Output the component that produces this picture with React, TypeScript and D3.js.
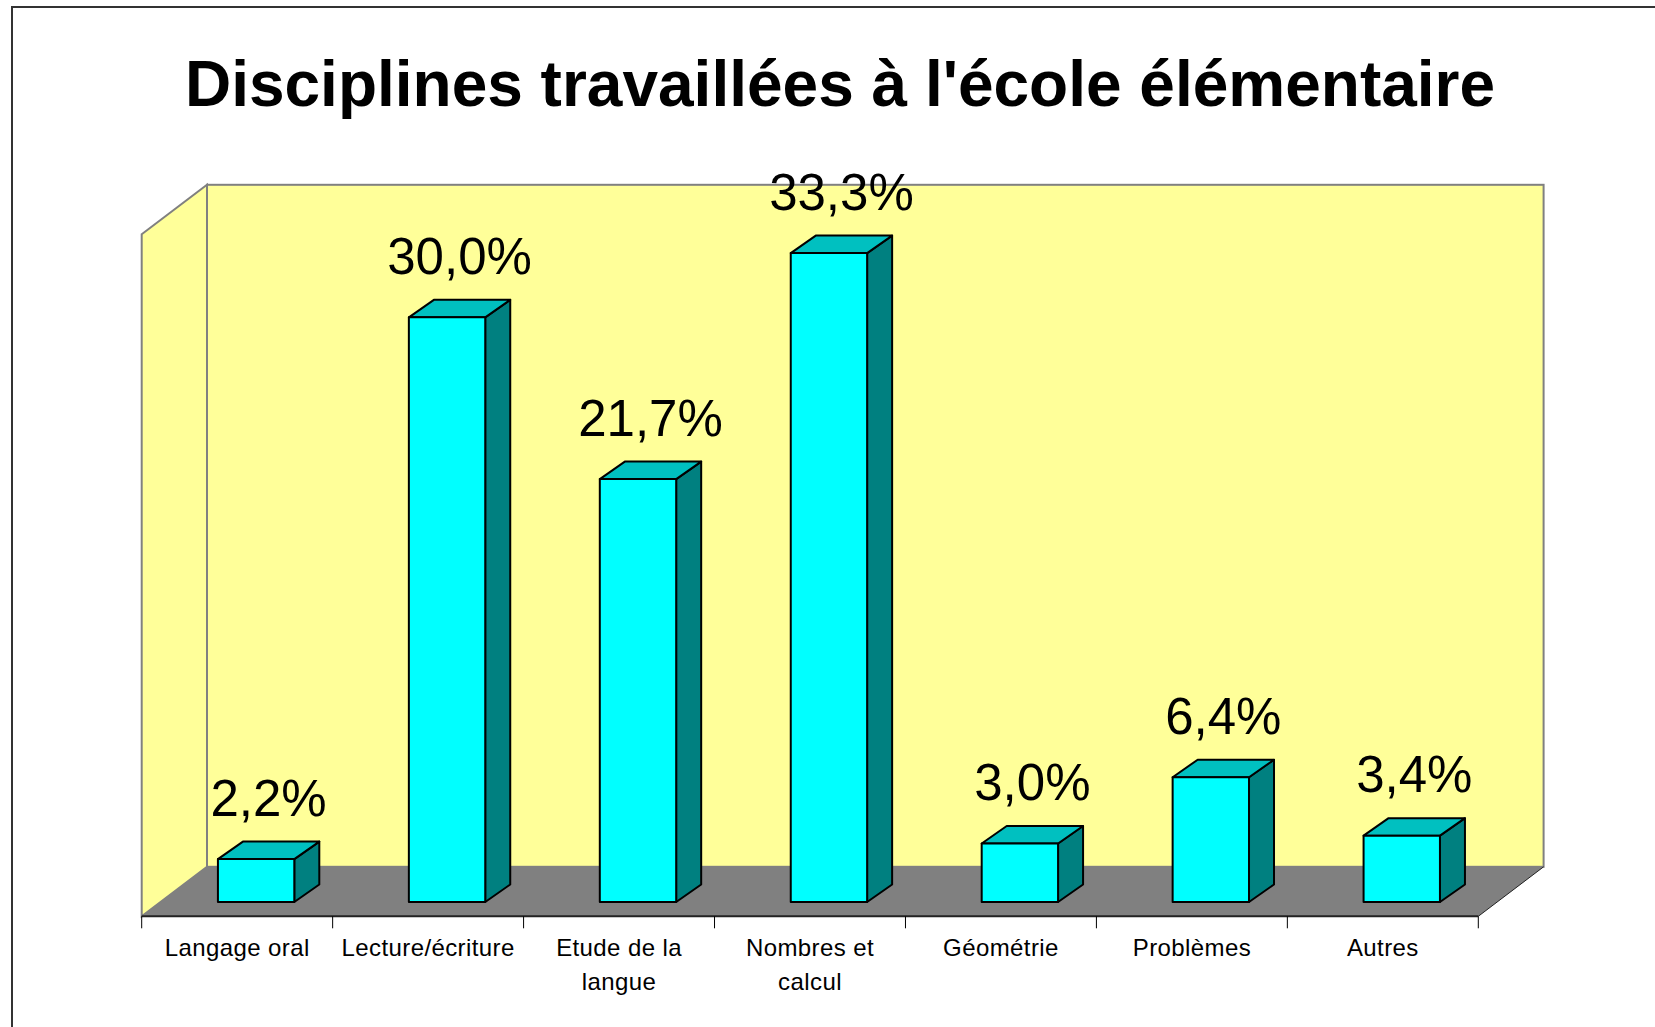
import React from "react";
import * as d3 from "d3";

const categories = [
  "Langage oral",
  "Lecture/écriture",
  "Etude de la langue",
  "Nombres et calcul",
  "Géométrie",
  "Problèmes",
  "Autres",
];
const categoryLines = [
  ["Langage oral"],
  ["Lecture/écriture"],
  ["Etude de la", "langue"],
  ["Nombres et", "calcul"],
  ["Géométrie"],
  ["Problèmes"],
  ["Autres"],
];
const values = [2.2, 30.0, 21.7, 33.3, 3.0, 6.4, 3.4];
const valueLabels = ["2,2%", "30,0%", "21,7%", "33,3%", "3,0%", "6,4%", "3,4%"];
const yMax = 35;

const W = 1655;
const H = 1027;
const font = "'Liberation Sans', Arial, sans-serif";

export default function App() {
  // front edge of the floor and the 3D depth offset
  const x0 = 141.7;
  const x1 = 1478.3;
  const floorY = 916.3;
  const dX = 65.3;
  const dY = -49.5;
  const wallH = 682;

  const x = d3.scaleBand().domain(categories).range([x0, x1]).padding(0);
  const h = d3.scaleLinear().domain([0, yMax]).range([0, wallH]);

  // bars sit a bit inside the floor
  const fFront = 0.29;
  const bx = dX * fFront;
  const by = dY * fFront;
  const bdx = 25;
  const bdy = -17.5;
  const bw = x.bandwidth() * 0.4;

  const sideWall = [
    [x0, floorY - wallH],
    [x0 + dX, floorY + dY - wallH],
    [x0 + dX, floorY + dY],
    [x0, floorY],
  ];
  const floor = [
    [x0, floorY],
    [x0 + dX, floorY + dY],
    [x1 + dX, floorY + dY],
    [x1, floorY],
  ];
  const pts = (p: number[][]) => p.map((d) => d.join(",")).join(" ");

  return (
    <svg
      width={W}
      height={H}
      style={{ position: "absolute", left: 0, top: 0, background: "#fff" }}
    >
      <rect x={12} y={7} width={W + 20} height={H + 20} fill="#fff" stroke="#333" strokeWidth={2} />
      <text
        x={840}
        y={106}
        textAnchor="middle"
        fontFamily={font}
        fontWeight="bold"
        fontSize={64}
      >
        Disciplines travaillées à l'école élémentaire
      </text>

      {/* back wall */}
      <rect
        x={x0 + dX}
        y={floorY + dY - wallH}
        width={x1 - x0}
        height={wallH}
        fill="#FFFF99"
        stroke="#808080"
        strokeWidth={2}
      />
      <polygon points={pts(sideWall)} fill="#FFFF99" stroke="#808080" strokeWidth={2} />
      <polygon points={pts(floor)} fill="#808080" stroke="none" />
      <line x1={x0} x2={x1} y1={floorY} y2={floorY} stroke="#222" strokeWidth={2} />
      <line x1={x1} x2={x1 + dX} y1={floorY} y2={floorY + dY} stroke="#222" strokeWidth={1} />

      {/* ticks */}
      {d3.range(categories.length + 1).map((i) => {
        const tx = x0 + i * x.step();
        return <line key={i} x1={tx} x2={tx} y1={floorY} y2={floorY + 12} stroke="#000" strokeWidth={1} />;
      })}

      {/* bars */}
      {categories.map((c, i) => {
        const cx = (x(c) as number) + x.bandwidth() / 2 + bx;
        const left = cx - bw / 2;
        const right = cx + bw / 2;
        const base = floorY + by;
        const top = base - h(values[i]);
        const front = [
          [left, base],
          [left, top],
          [right, top],
          [right, base],
        ];
        const topFace = [
          [left, top],
          [left + bdx, top + bdy],
          [right + bdx, top + bdy],
          [right, top],
        ];
        const side = [
          [right, base],
          [right, top],
          [right + bdx, top + bdy],
          [right + bdx, base + bdy],
        ];
        return (
          <g key={c}>
            <polygon points={pts(side)} fill="#008080" stroke="#000" strokeWidth={2} strokeLinejoin="round" />
            <polygon points={pts(topFace)} fill="#00C0C0" stroke="#000" strokeWidth={2} strokeLinejoin="round" />
            <polygon points={pts(front)} fill="#00FFFF" stroke="#000" strokeWidth={2} strokeLinejoin="round" />
            <text
              x={cx + bdx / 2}
              y={top + bdy - 26}
              textAnchor="middle"
              fontFamily={font}
              fontSize={51}
            >
              {valueLabels[i]}
            </text>
          </g>
        );
      })}

      {/* category labels */}
      {categories.map((c, i) => (
        <text
          key={c}
          x={(x(c) as number) + x.bandwidth() / 2}
          y={956}
          textAnchor="middle"
          fontFamily={font}
          fontSize={24}
          letterSpacing={0.4}
        >
          {categoryLines[i].map((l, j) => (
            <tspan key={j} x={(x(c) as number) + x.bandwidth() / 2} dy={j === 0 ? 0 : 34}>
              {l}
            </tspan>
          ))}
        </text>
      ))}
    </svg>
  );
}
